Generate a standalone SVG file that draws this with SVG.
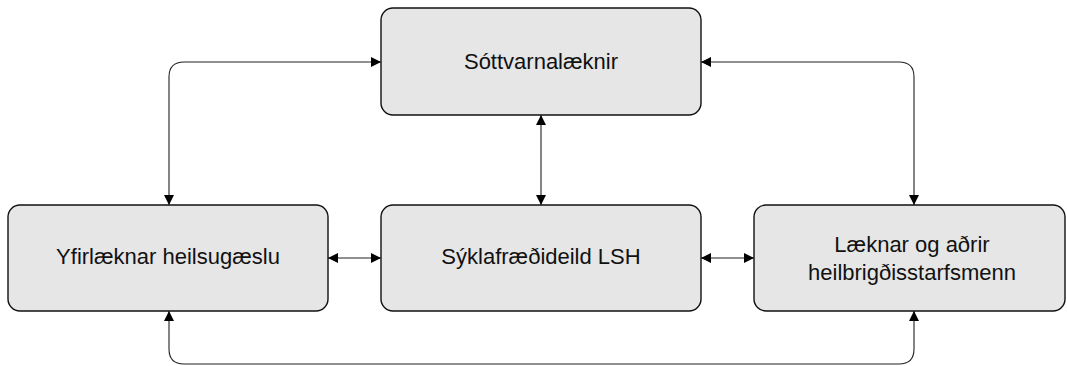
<svg xmlns="http://www.w3.org/2000/svg" width="1067" height="366" viewBox="0 0 1067 366">
<style>
.box{fill:#e6e6e6;stroke:#111;stroke-width:1.4}
.lbl{font-family:"Liberation Sans",Arial,sans-serif;font-size:22px;fill:#111;text-anchor:middle}
.con{fill:none;stroke:#222;stroke-width:1.1}
</style>
<defs>
<marker id="ah" viewBox="0 0 10 10" refX="10" refY="5" markerWidth="10" markerHeight="10" markerUnits="userSpaceOnUse" orient="auto-start-reverse">
<path d="M0,0 L10,5 L0,10 Z" fill="#000"/>
</marker>
</defs>
<g id="connectors">
<path class="con" d="M381,62 H184 Q169,62 169,77 V205" marker-start="url(#ah)" marker-end="url(#ah)"/>
<path class="con" d="M701,62 H899 Q914,62 914,77 V205" marker-start="url(#ah)" marker-end="url(#ah)"/>
<path class="con" d="M541,115 V205" marker-start="url(#ah)" marker-end="url(#ah)"/>
<path class="con" d="M328,258 H381" marker-start="url(#ah)" marker-end="url(#ah)"/>
<path class="con" d="M701,258 H754" marker-start="url(#ah)" marker-end="url(#ah)"/>
<path class="con" d="M169,311 V349 Q169,364 184,364 H899 Q914,364 914,349 V311" marker-start="url(#ah)" marker-end="url(#ah)"/>
</g>
<g id="sottvarnalaeknir">
<rect class="box" x="381" y="8" width="320" height="107" rx="12"/>
<text class="lbl" x="541" y="69">Sóttvarnalæknir</text>
</g>
<g id="yfirlaeknar">
<rect class="box" x="8" y="205" width="320" height="106" rx="12"/>
<text class="lbl" x="168" y="264">Yfirlæknar heilsugæslu</text>
</g>
<g id="syklafraedideild">
<rect class="box" x="381" y="205" width="320" height="106" rx="12"/>
<text class="lbl" x="541" y="264">Sýklafræðideild LSH</text>
</g>
<g id="laeknar">
<rect class="box" x="754" y="205" width="311" height="106" rx="12"/>
<text class="lbl" x="912" y="252">Læknar og aðrir</text>
<text class="lbl" x="912" y="280">heilbrigðisstarfsmenn</text>
</g>
</svg>
